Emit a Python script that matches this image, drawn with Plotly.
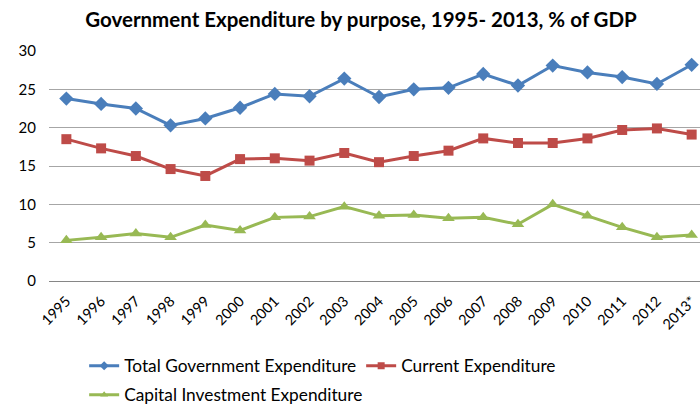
import plotly.graph_objects as go

years = ["1995", "1996", "1997", "1998", "1999", "2000", "2001", "2002", "2003", "2004",
         "2005", "2006", "2007", "2008", "2009", "2010", "2011", "2012", "2013*"]

total_exp = [23.8, 23.1, 22.5, 20.3, 21.2, 22.6, 24.4, 24.1, 26.4, 24.0,
             25.0, 25.2, 27.0, 25.5, 28.1, 27.2, 26.6, 25.7, 28.2]
current_exp = [18.5, 17.3, 16.3, 14.6, 13.7, 15.9, 16.0, 15.7, 16.7, 15.5,
               16.3, 17.0, 18.6, 18.0, 18.0, 18.6, 19.7, 19.9, 19.1]
capital_exp = [5.3, 5.7, 6.2, 5.7, 7.3, 6.6, 8.3, 8.4, 9.7, 8.5,
               8.6, 8.2, 8.3, 7.4, 10.0, 8.5, 7.0, 5.7, 6.0]

series = [
    ("Total Government Expenditure", total_exp, "#4A7EBB", "diamond", 11, "legend"),
    ("Current Expenditure", current_exp, "#BE4B48", "square", 10, "legend"),
    ("Capital Investment Expenditure", capital_exp, "#98B954", "triangle-up", 11, "legend2"),
]

FONT = "Lato, sans-serif"

fig = go.Figure()
for name, vals, color, symbol, size, leg in series:
    # plotted series
    fig.add_trace(go.Scatter(
        x=list(range(len(years))), y=vals, name=name, mode="lines+markers",
        line=dict(color=color, width=3),
        marker=dict(symbol=symbol, size=size, color=color),
        legendgroup=name, showlegend=False,
    ))
    # legend key with a smaller marker
    fig.add_trace(go.Scatter(
        x=[None], y=[None], name=name, mode="lines+markers",
        line=dict(color=color, width=3),
        marker=dict(symbol=symbol, size=7, color=color),
        legendgroup=name, legend=leg,
    ))

legend_common = dict(orientation="h", xanchor="left", yanchor="middle",
                     yref="container", font=dict(family=FONT, size=17.3, color="#000"),
                     bgcolor="rgba(0,0,0,0)", itemwidth=30, tracegroupgap=0)

fig.update_layout(
    width=700, height=407,
    margin=dict(l=49, r=0, t=51, b=126),
    paper_bgcolor="white", plot_bgcolor="white",
    title=dict(text="<b>Government Expenditure by purpose, 1995- 2013, % of GDP</b>",
               x=361 / 700, xanchor="center", y=1 - 20 / 407, yanchor="middle",
               font=dict(family=FONT, size=20.5, color="#000")),
    legend=dict(x=0.054, y=1 - 366 / 407, entrywidth=232, entrywidthmode="pixels",
                **legend_common),
    legend2=dict(x=0.054, y=1 - 395 / 407, **legend_common),
    xaxis=dict(
        tickmode="array", tickvals=list(range(len(years))), ticktext=years,
        range=[-0.5, 18.24], tickangle=-45, showgrid=False, zeroline=False,
        showline=False, ticks="", ticklabelstandoff=8,
        tickfont=dict(family=FONT, size=14.5, color="#000"),
    ),
    yaxis=dict(
        range=[0, 30], tickvals=[0, 5, 10, 15, 20, 25, 30],
        showgrid=True, gridcolor="#A6A6A6", gridwidth=1,
        zeroline=True, zerolinecolor="#868686", zerolinewidth=1,
        showline=False, ticks="", ticklabelstandoff=12,
        tickfont=dict(family=FONT, size=15, color="#000"),
    ),
)

fig.write_html("out.html")
